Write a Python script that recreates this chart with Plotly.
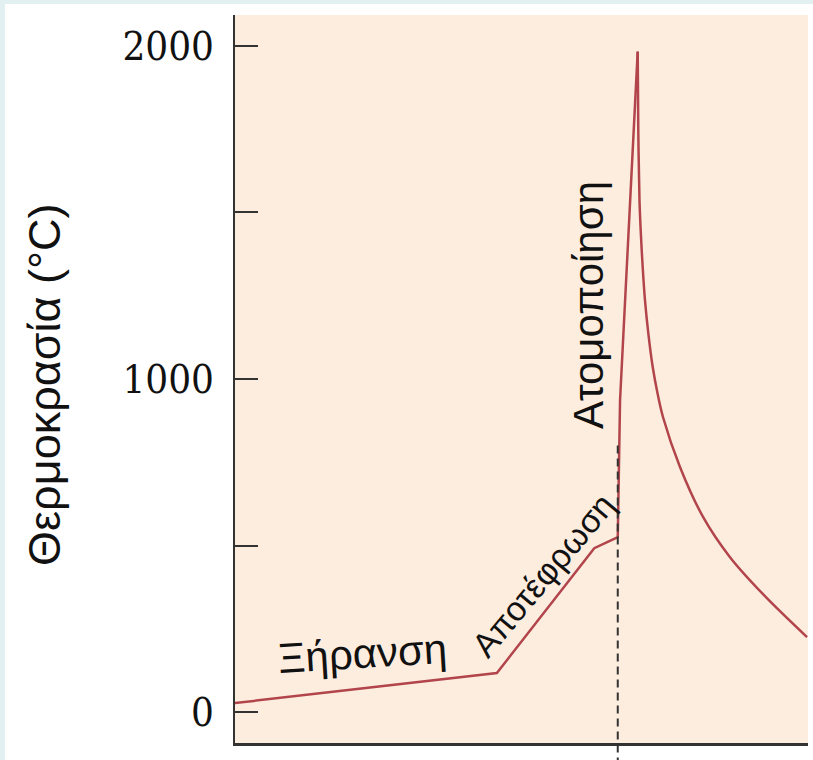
import plotly.graph_objects as go

# ---- data ----
# heating stages up to the atomization peak
rise_x = [0, 45.7, 62.7, 66.8, 67.2, 70.28]
rise_y = [27, 117, 492, 525, 937, 1983]
# cooling after the peak
decay_x = [70.28, 70.38, 70.59, 70.80, 71.15, 71.55, 72.13, 72.90, 73.73, 74.69,
           77.66, 81.68, 86.39, 92.15, 99.83]
decay_y = [1983, 1748, 1538, 1447, 1336, 1237, 1138, 1036, 958, 886,
           736, 586, 465, 354, 225]

y_tick_vals = [0, 500, 1000, 1500, 2000]
y_tick_text = ["0", "", "1000", "", "2000"]

atomization_x = 66.8
atomization_y_top = 800

stage_labels = ["Ξήρανση", "Αποτέφρωση", "Ατομοποίηση"]
stage_x = [22.2, 53.8, 61.6]
stage_y = [177, 411, 1222]
stage_angle = [-3.5, -50, -90]
stage_size = [42, 34, 42]

y_title = "Θερμοκρασία (°C)"

X_RANGE = [0, 100]
Y_RANGE = [-93, 2093]

LINE_COLOR = "#b2454b"

fig = go.Figure()
fig.add_trace(go.Scatter(
    x=rise_x, y=rise_y, mode="lines",
    line=dict(color=LINE_COLOR, width=2.5),
    hoverinfo="skip", showlegend=False,
))
fig.add_trace(go.Scatter(
    x=decay_x, y=decay_y, mode="lines",
    line=dict(color=LINE_COLOR, width=2.5, shape="spline", smoothing=1.0),
    hoverinfo="skip", showlegend=False,
))

def to_paper_y(v):
    return (v - Y_RANGE[0]) / (Y_RANGE[1] - Y_RANGE[0])

shapes = [
    # page frame strips
    dict(type="rect", xref="paper", yref="paper", x0=-0.42, x1=-0.4014, y0=-0.03, y1=1.03,
         fillcolor="#e3f0f2", line=dict(width=0), layer="below"),
    dict(type="rect", xref="paper", yref="paper", x0=-0.42, x1=1.02, y0=1.0151, y1=1.03,
         fillcolor="#e3f0f2", line=dict(width=0), layer="below"),
    # dashed atomization marker
    dict(type="line", xref="x", yref="paper", x0=atomization_x, x1=atomization_x,
         y0=to_paper_y(atomization_y_top), y1=-0.03,
         line=dict(color="#333333", width=2, dash="8px,5px")),
]

annotations = []
for t, x, y, a, s in zip(stage_labels, stage_x, stage_y, stage_angle, stage_size):
    annotations.append(dict(text=t, x=x, y=y, xref="x", yref="y", showarrow=False,
                            xanchor="center", yanchor="middle",
                            textangle=a, font=dict(family="Liberation Sans", size=s, color="#111111")))
annotations.append(dict(text=y_title, x=-0.3316, y=0.4918, xref="paper", yref="paper",
                        showarrow=False, textangle=-90, xanchor="center", yanchor="middle",
                        font=dict(family="Liberation Sans", size=45, color="#111111")))

fig.update_layout(
    width=813, height=760,
    margin=dict(l=235, r=5, t=15, b=17),
    paper_bgcolor="white",
    plot_bgcolor="#fdeddf",
    shapes=shapes,
    annotations=annotations,
    xaxis=dict(range=X_RANGE, showgrid=False, zeroline=False, showticklabels=False,
               ticks="", showline=True, linecolor="#333333", linewidth=3),
    yaxis=dict(range=Y_RANGE, showgrid=False, zeroline=False,
               tickvals=y_tick_vals, ticktext=y_tick_text,
               ticks="inside", ticklen=23, tickwidth=2, tickcolor="#333333",
               showline=True, linecolor="#333333", linewidth=2,
               ticklabelstandoff=11,
               tickfont=dict(family="DejaVu Serif Condensed, Liberation Serif", size=40, color="#111111")),
)

fig.write_html("out.html", config={"displayModeBar": False},
               post_script="document.body.style.margin='0px';")
